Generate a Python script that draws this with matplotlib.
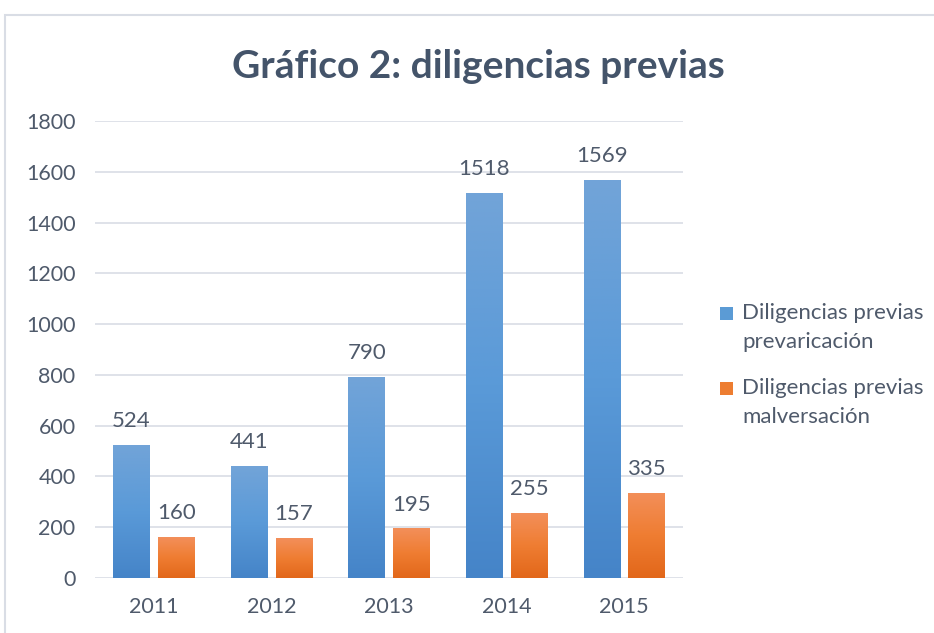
import matplotlib.pyplot as plt
import numpy as np
from matplotlib.patches import Rectangle
from matplotlib.colors import LinearSegmentedColormap

years = ["2011", "2012", "2013", "2014", "2015"]
prevaricacion = [524, 441, 790, 1518, 1569]
malversacion = [160, 157, 195, 255, 335]
series_names = ["Diligencias previas\nprevaricación", "Diligencias previas\nmalversación"]

TEXT = "#4f5a6b"
GRID = "#d9dde5"

plt.rcParams["font.family"] = ["Lato", "DejaVu Sans"]

fig = plt.figure(figsize=(9.34, 6.33), dpi=100)
ax = fig.add_axes([95 / 934, 1 - 578 / 633, 588 / 934, 457 / 633])

# chart frame (top / left edges visible)
fig.patches.append(Rectangle((5 / 934, -0.1), 1.2, (633 - 15) / 633 + 0.1,
                             transform=fig.transFigure, fill=False,
                             edgecolor=GRID, linewidth=1.5))

x = np.arange(len(years))
w = 0.31
off = 0.19

blue_cmap = LinearSegmentedColormap.from_list("b", ["#4584c8", "#5a9ad8", "#72a4d8"])
orange_cmap = LinearSegmentedColormap.from_list("o", ["#e2671a", "#ef7d32", "#f38f5a"])

bars_b = ax.bar(x - off, prevaricacion, w, color="#5b9bd5", zorder=2)
bars_o = ax.bar(x + off, malversacion, w, color="#ed7d31", zorder=2)

grad = np.linspace(0, 1, 256).reshape(-1, 1)
for bars, cmap in [(bars_b, blue_cmap), (bars_o, orange_cmap)]:
    for b in bars:
        x0, y0 = b.get_x(), b.get_y()
        im = ax.imshow(grad, cmap=cmap, origin="lower", aspect="auto",
                       extent=[x0, x0 + b.get_width(), y0, y0 + b.get_height()],
                       zorder=3)
        im.set_clip_path(b)

for bars, vals in [(bars_b, prevaricacion), (bars_o, malversacion)]:
    for b, v in zip(bars, vals):
        ax.text(b.get_x() + b.get_width() / 2, v + 55, str(v), ha="center",
                va="bottom", fontsize=16, color=TEXT, zorder=4)

ax.set_xlim(-0.5, 4.5)
ax.set_ylim(0, 1800)
ax.set_yticks(range(0, 1801, 200))
ax.set_xticks(x)
ax.set_xticklabels(years)
ax.tick_params(axis="both", length=0, labelsize=15.5, colors=TEXT)
ax.tick_params(axis="y", pad=14)
ax.tick_params(axis="x", pad=14)
ax.grid(axis="y", color=GRID, linewidth=1.2, zorder=0)
ax.set_axisbelow(True)
for s in ax.spines.values():
    s.set_visible(False)

fig.text(478 / 934, 1 - 66 / 633, "Gráfico 2: diligencias previas", ha="center",
         va="center", fontsize=28, fontweight="bold", color="#44546a")

# legend drawn by hand: square aligned with the first text line (Excel style)
W, H = 934, 633
for name, color, y_px in [(series_names[0], "#5b9bd5", 313), (series_names[1], "#ed7d31", 388)]:
    fig.patches.append(Rectangle((720 / W, 1 - (y_px + 6.5) / H), 13 / W, 13 / H,
                                 transform=fig.transFigure, facecolor=color,
                                 edgecolor="none"))
    for k, line in enumerate(name.split("\n")):
        fig.text(742 / W, 1 - (y_px + 29 * k) / H, line, ha="left", va="center",
                 fontsize=16, color=TEXT)

fig.savefig("out.png", dpi=100, facecolor="white")
